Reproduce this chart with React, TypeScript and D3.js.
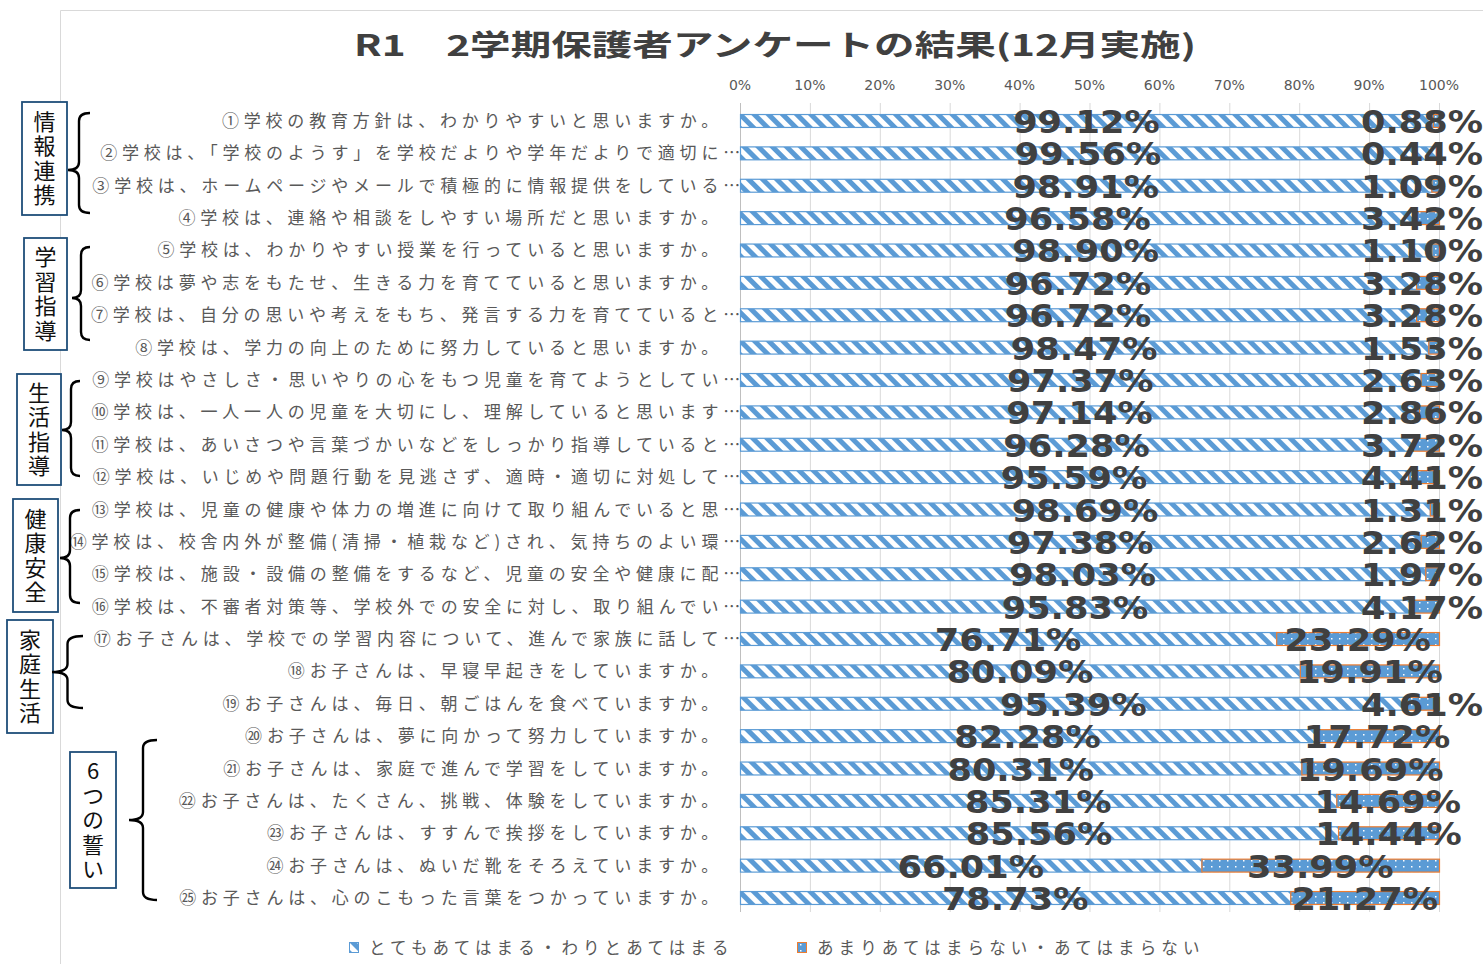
import * as d3 from 'd3';
import React, { useEffect, useRef } from 'react';

// question labels (as shown, truncated ones keep their ellipsis)
const questions = [
  '①学校の教育方針は、わかりやすいと思いますか。',
  '②学校は、「学校のようす」を学校だよりや学年だよりで適切に…',
  '③学校は、ホームページやメールで積極的に情報提供をしている…',
  '④学校は、連絡や相談をしやすい場所だと思いますか。',
  '⑤学校は、わかりやすい授業を行っていると思いますか。',
  '⑥学校は夢や志をもたせ、生きる力を育てていると思いますか。',
  '⑦学校は、自分の思いや考えをもち、発言する力を育てていると…',
  '⑧学校は、学力の向上のために努力していると思いますか。',
  '⑨学校はやさしさ・思いやりの心をもつ児童を育てようとしてい…',
  '⑩学校は、一人一人の児童を大切にし、理解していると思います…',
  '⑪学校は、あいさつや言葉づかいなどをしっかり指導していると…',
  '⑫学校は、いじめや問題行動を見逃さず、適時・適切に対処して…',
  '⑬学校は、児童の健康や体力の増進に向けて取り組んでいると思…',
  '⑭学校は、校舎内外が整備(清掃・植栽など)され、気持ちのよい環…',
  '⑮学校は、施設・設備の整備をするなど、児童の安全や健康に配…',
  '⑯学校は、不審者対策等、学校外での安全に対し、取り組んでい…',
  '⑰お子さんは、学校での学習内容について、進んで家族に話して…',
  '⑱お子さんは、早寝早起きをしていますか。',
  '⑲お子さんは、毎日、朝ごはんを食べていますか。',
  '⑳お子さんは、夢に向かって努力していますか。',
  '㉑お子さんは、家庭で進んで学習をしていますか。',
  '㉒お子さんは、たくさん、挑戦、体験をしていますか。',
  '㉓お子さんは、すすんで挨拶をしていますか。',
  '㉔お子さんは、ぬいだ靴をそろえていますか。',
  '㉕お子さんは、心のこもった言葉をつかっていますか。',
];

const positive = [99.12, 99.56, 98.91, 96.58, 98.9, 96.72, 96.72, 98.47, 97.37, 97.14, 96.28, 95.59,
  98.69, 97.38, 98.03, 95.83, 76.71, 80.09, 95.39, 82.28, 80.31, 85.31, 85.56, 66.01, 78.73];
const negative = [0.88, 0.44, 1.09, 3.42, 1.1, 3.28, 3.28, 1.53, 2.63, 2.86, 3.72, 4.41,
  1.31, 2.62, 1.97, 4.17, 23.29, 19.91, 4.61, 17.72, 19.69, 14.69, 14.44, 33.99, 21.27];

const seriesNames = ['とてもあてはまる・わりとあてはまる', 'あまりあてはまらない・あてはまらない'];
const tickValues = [0, 10, 20, 30, 40, 50, 60, 70, 80, 90, 100];

const groupNames = ['情報連携', '学習指導', '生活指導', '健康安全', '家庭生活', '6つの誓い'];

// layout of the hand drawn boxes and braces on the left
const boxLayout = [
  { x: 22, y: 102, w: 45, h: 113, brace: [68, 90, 113, 170, 213] },
  { x: 24, y: 238, w: 43, h: 112, brace: [72, 90, 247, 298, 340] },
  { x: 17, y: 374, w: 44, h: 111, brace: [62, 80, 381, 430, 476] },
  { x: 13, y: 499, w: 45, h: 113, brace: [60, 80, 510, 558, 603] },
  { x: 7, y: 620, w: 46, h: 113, brace: [52, 83, 636, 672, 708] },
  { x: 70, y: 752, w: 46, h: 136, brace: [129, 157, 740, 820, 900] },
];

const W = 1483, H = 964;
const BLUE = '#5B9BD5', ORANGE = '#ED7D31';

function bracePath(tx: number, ax: number, top: number, tip: number, bot: number) {
  const mx = (tx + ax) / 2;
  const r = Math.min(8, (tip - top) / 4);
  return `M${ax},${top} Q${mx},${top} ${mx},${top + r} L${mx},${tip - r} Q${mx},${tip} ${tx},${tip}` +
    ` Q${mx},${tip} ${mx},${tip + r} L${mx},${bot - r} Q${mx},${bot} ${ax},${bot}`;
}

export default function App() {
  const ref = useRef<SVGSVGElement>(null);

  useEffect(() => {
    const svg = d3.select(ref.current);
    svg.selectAll('*').remove();

    const defs = svg.append('defs');
    const stripes = defs.append('pattern')
      .attr('id', 'stripes').attr('patternUnits', 'userSpaceOnUse')
      .attr('width', 10).attr('height', 10)
      .attr('patternTransform', 'rotate(-45)');
    stripes.append('rect').attr('width', 10).attr('height', 10).attr('fill', '#fff');
    stripes.append('rect').attr('width', 5).attr('height', 10).attr('fill', BLUE);

    const dots = defs.append('pattern')
      .attr('id', 'dots').attr('patternUnits', 'userSpaceOnUse')
      .attr('width', 8).attr('height', 6);
    dots.append('rect').attr('width', 8).attr('height', 6).attr('fill', BLUE);
    dots.append('rect').attr('x', 3).attr('y', 2).attr('width', 1.5).attr('height', 1.5).attr('fill', '#fff');

    svg.append('rect').attr('width', W).attr('height', H).attr('fill', '#fff');

    // chart frame (left and top edges visible)
    svg.append('path').attr('d', `M60.5,${H} L60.5,10.5 L${W},10.5`)
      .attr('fill', 'none').attr('stroke', '#d9d9d9');

    const x = d3.scaleLinear().domain([0, 100]).range([740, 1439]);
    const y = d3.scaleBand<string>().domain(questions).range([104.8, 914.2])
      .paddingInner(0.57).paddingOuter(0.285);

    // title
    svg.append('text')
      .attr('x', 354).attr('y', 56)
      .attr('textLength', 842).attr('lengthAdjust', 'spacingAndGlyphs')
      .attr('font-family', '"Noto Sans CJK JP", sans-serif')
      .attr('font-weight', 700).attr('font-size', 29).attr('fill', '#404040')
      .text('R1　2学期保護者アンケートの結果(12月実施)');

    // gridlines + ticks
    svg.append('g').selectAll('line').data(tickValues).enter().append('line')
      .attr('x1', (d) => x(d) + 0.5).attr('x2', (d) => x(d) + 0.5)
      .attr('y1', 103).attr('y2', 912)
      .attr('stroke', (d) => (d === 0 ? '#bfbfbf' : '#d9d9d9'));
    svg.append('g').selectAll('text').data(tickValues).enter().append('text')
      .attr('x', (d) => x(d)).attr('y', 90)
      .attr('text-anchor', 'middle')
      .attr('font-family', '"DejaVu Sans", sans-serif').attr('font-size', 14)
      .attr('fill', '#595959')
      .text((d) => d + '%');

    // category labels
    svg.append('g').selectAll('text').data(questions).enter().append('text')
      .attr('x', (d) => (d.endsWith('…') ? 745 : 723))
      .attr('y', (d) => (y(d) as number) + y.bandwidth() / 2 + 6)
      .attr('text-anchor', 'end')
      .attr('font-family', '"Noto Sans CJK JP", sans-serif')
      .attr('font-size', 17).attr('letter-spacing', 4.8)
      .attr('fill', '#595959')
      .text((d) => d);

    // bars
    const rows = questions.map((q, i) => ({ q, p: positive[i], n: negative[i] }));
    svg.append('g').selectAll('rect').data(rows).enter().append('rect')
      .attr('x', x(0) + 0.5).attr('y', (d) => (y(d.q) as number) + 0.5)
      .attr('width', (d) => x(d.p) - x(0)).attr('height', y.bandwidth() - 1)
      .attr('fill', 'url(#stripes)').attr('stroke', BLUE).attr('stroke-width', 1.2);
    svg.append('g').selectAll('rect').data(rows).enter().append('rect')
      .attr('x', (d) => x(d.p) + 0.5).attr('y', (d) => (y(d.q) as number) + 0.5)
      .attr('width', (d) => x(d.p + d.n) - x(d.p)).attr('height', y.bandwidth() - 1)
      .attr('fill', 'url(#dots)').attr('stroke', ORANGE).attr('stroke-width', 1.2);

    // data labels
    const labels: { cx: number; cy: number; t: string }[] = [];
    rows.forEach((d) => {
      const cy = (y(d.q) as number) + y.bandwidth() / 2 + 12;
      labels.push({ cx: x(d.p / 2), cy, t: d.p.toFixed(2) + '%' });
      labels.push({ cx: x(d.p + d.n / 2), cy, t: d.n.toFixed(2) + '%' });
    });
    const sx = 1.1;
    const lg = svg.append('g').selectAll('g').data(labels).enter().append('g');
    lg.append('text')
      .attr('text-anchor', 'middle')
      .attr('transform', `scale(${sx},1)`)
      .attr('font-family', '"DejaVu Sans", sans-serif')
      .attr('font-weight', 700).attr('font-size', 32)
      .attr('fill', '#404040')
      .text((d) => d.t);
    lg.attr('transform', function (d) {
      const t = (this as SVGGElement).querySelector('text') as SVGTextElement;
      const w = t.getComputedTextLength() * sx;
      const cx = Math.min(d.cx, W - w / 2);
      return `translate(${cx},${d.cy})`;
    });

    // legend
    const legendX = [349, 797];
    seriesNames.forEach((name, i) => {
      const g = svg.append('g').attr('transform', `translate(${legendX[i]},942)`);
      g.append('rect').attr('x', 0.5).attr('y', 0.5).attr('width', 9).attr('height', 10)
        .attr('fill', i === 0 ? 'url(#stripes)' : 'url(#dots)')
        .attr('stroke', i === 0 ? BLUE : ORANGE);
      g.append('text').attr('x', 20).attr('y', 11.5)
        .attr('font-family', '"Noto Sans CJK JP", sans-serif')
        .attr('font-size', 16.5).attr('letter-spacing', 5.1)
        .attr('fill', '#595959')
        .text(name);
    });

    // group boxes and braces (vertical text)
    groupNames.forEach((name, i) => {
      const b = boxLayout[i];
      svg.append('rect').attr('x', b.x).attr('y', b.y).attr('width', b.w).attr('height', b.h)
        .attr('fill', '#fff').attr('stroke', '#1F4E79').attr('stroke-width', 1.8);
      svg.append('text')
        .attr('x', b.x + b.w / 2).attr('y', b.y + b.h / 2 + 1)
        .attr('text-anchor', 'middle')
        .style('writing-mode', 'vertical-rl')
        .style('text-orientation', 'upright')
        .attr('letter-spacing', 2.5)
        .attr('font-family', '"Noto Sans CJK JP", sans-serif')
        .attr('font-size', 22).attr('fill', '#111')
        .text(name);
      const [tx, ax, top, tip, bot] = b.brace;
      svg.append('path').attr('d', bracePath(tx, ax, top, tip, bot))
        .attr('fill', 'none').attr('stroke', '#000').attr('stroke-width', 2.4);
    });
  }, []);

  return (
    <div style={{ position: 'absolute', left: 0, top: 0 }}>
      <svg ref={ref} width={W} height={H} style={{ display: 'block' }} />
    </div>
  );
}
